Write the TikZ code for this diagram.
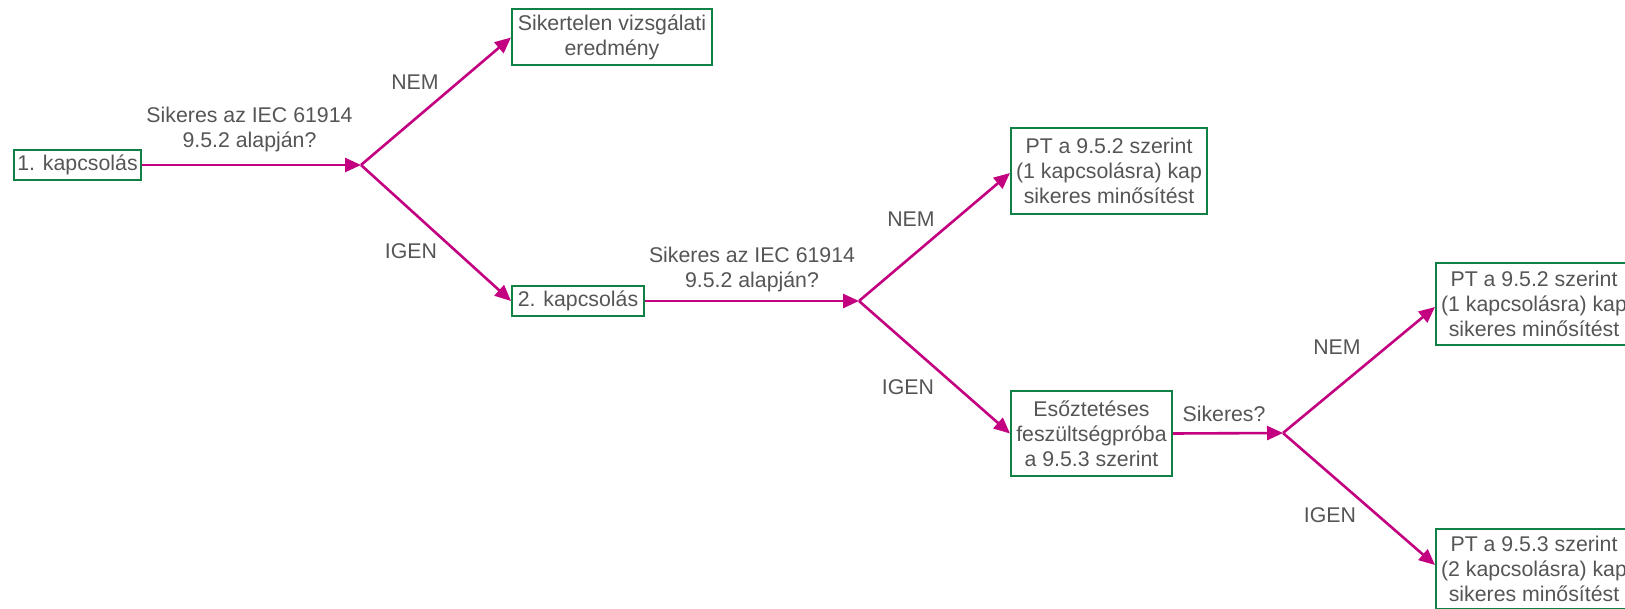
\documentclass[tikz,border=0pt]{standalone}
\usepackage{fontspec}
\setmainfont{Liberation Sans}
\usetikzlibrary{arrows.meta}
\definecolor{arrowmag}{RGB}{194,0,128}
\definecolor{boxgreen}{RGB}{16,128,68}
\definecolor{txtgray}{RGB}{85,85,85}
\tikzset{
  box/.style={draw=boxgreen, line width=2pt, inner sep=0pt, align=center, text=txtgray,
    font=\fontsize{21.3}{25}\selectfont},
  lbl/.style={inner sep=0pt, align=center, text=txtgray, font=\fontsize{21.3}{25}\selectfont},
  conn/.style={draw=arrowmag, line width=2.6pt, -{Triangle[length=16pt,width=14pt]}},
  seg/.style={draw=arrowmag, line width=2.6pt}
}
\begin{document}
\begin{tikzpicture}[x=1pt,y=-1pt]
\useasboundingbox (0,0) rectangle (1625,609);
\clip (0,0) rectangle (1625,609);
% boxes
\node[box, minimum width=127pt, minimum height=30pt] (k1) at (77.5,165) {1. kapcsolás};
\node[box, minimum width=200pt, minimum height=56pt] (fail) at (612,37.5) {Sikertelen vizsgálati\\eredmény};
\node[box, minimum width=132pt, minimum height=30pt] (k2) at (578,301) {2. kapcsolás};
\node[box, minimum width=196pt, minimum height=86pt] (pt1) at (1109,171) {PT a 9.5.2 szerint\\(1 kapcsolásra) kap\\sikeres minősítést};
\node[box, minimum width=161pt, minimum height=85pt] (eso) at (1091.5,433.5) {Esőztetéses\\feszültségpróba\\a 9.5.3 szerint};
\node[box, minimum width=196pt, minimum height=82pt] (pt2) at (1534,304) {PT a 9.5.2 szerint\\(1 kapcsolásra) kap\\sikeres minősítést};
\node[box, minimum width=196pt, minimum height=80pt] (pt3) at (1534,569) {PT a 9.5.3 szerint\\(2 kapcsolásra) kap\\sikeres minősítést};
% branch points
\coordinate (b1) at (361,165);
\coordinate (b2) at (859,301);
\coordinate (b3) at (1283,433);
% connectors
\draw[conn] (k1.east) -- (b1);
\draw[conn] (b1) -- (fail.west);
\draw[conn] (b1) -- (k2.west);
\draw[conn] (k2.east) -- (b2);
\draw[conn] (b2) -- ([yshift=-2pt]pt1.west);
\draw[conn] (b2) -- (eso.west);
\draw[conn] (eso.east) -- (b3);
\draw[conn] (b3) -- ([yshift=-3pt]pt2.west);
\draw[conn] (b3) -- ([yshift=4pt]pt3.west);
% labels
\node[lbl] (q1) at (249.5,129.5) {Sikeres az IEC 61914\\9.5.2 alapján?};
\node[lbl] (n1) at (415,82) {NEM};
\node[lbl] (i1) at (411,251) {IGEN};
\node[lbl] (q2) at (752,269.5) {Sikeres az IEC 61914\\9.5.2 alapján?};
\node[lbl] (n2) at (911,219) {NEM};
\node[lbl] (i2) at (908,387) {IGEN};
\node[lbl] (q3) at (1224,414) {Sikeres?};
\node[lbl] (n3) at (1337,347) {NEM};
\node[lbl] (i3) at (1330,515) {IGEN};
\end{tikzpicture}
\end{document}
